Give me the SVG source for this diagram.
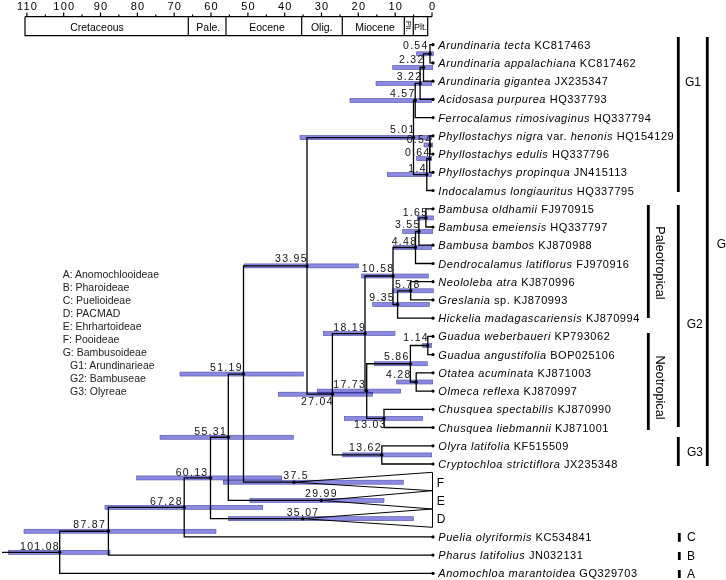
<svg xmlns="http://www.w3.org/2000/svg" width="726" height="580" viewBox="0 0 726 580">
<defs>
<style>
.br{fill:none;stroke:#000;stroke-width:1.3}
.bar{fill:#8a8ae2;stroke:#4e4ea6;stroke-width:0.6;mix-blend-mode:multiply}
.dot{fill:#000}
.nl{font-family:"Liberation Sans",Arial,sans-serif;font-size:10.5px;letter-spacing:1.3px;fill:#111}
.tip{font-family:"Liberation Sans",Arial,sans-serif;font-size:11px;letter-spacing:0.55px;fill:#000}
.sp{font-style:italic}
.ax{font-family:"Liberation Sans",Arial,sans-serif;font-size:11px;letter-spacing:1.2px;fill:#000;text-anchor:middle}
.per{font-family:"Liberation Sans",Arial,sans-serif;font-size:10.5px;fill:#000;text-anchor:middle}
.lg{font-family:"Liberation Sans",Arial,sans-serif;font-size:10.5px;fill:#222}
.cl{font-family:"Liberation Sans",Arial,sans-serif;font-size:12px;fill:#000}
.bk{stroke:#000;stroke-width:2.8;fill:none}
.tk{stroke:#000;stroke-width:1.2;fill:none}
.tri{fill:none;stroke:#000;stroke-width:1}
</style>
</defs>
<rect width="726" height="580" fill="#fff"/>

<g id="timescale">
<path class="tk" d="M25,16.7H432M25,16.7V35.7H427.7V16.7M188.3,16.7V35.7M226,16.7V35.7M301.7,16.7V35.7M342.3,16.7V35.7M404.3,16.7V35.7M413.3,16.7V35.7"/>
<path class="tk" d="M432,12.5V16.7M395.2,12.5V16.7M358.3,12.5V16.7M321.5,12.5V16.7M284.7,12.5V16.7M247.9,12.5V16.7M211,12.5V16.7M174.2,12.5V16.7M137.4,12.5V16.7M100.5,12.5V16.7M63.7,12.5V16.7M26.9,12.5V16.7M413.6,14.5V16.7M376.8,14.5V16.7M339.9,14.5V16.7M303.1,14.5V16.7M266.3,14.5V16.7M229.4,14.5V16.7M192.6,14.5V16.7M155.8,14.5V16.7M118.9,14.5V16.7M82.1,14.5V16.7M45.3,14.5V16.7"/>
<text class="ax" x="432.6" y="10">0</text>
<text class="ax" x="395.8" y="10">10</text>
<text class="ax" x="358.9" y="10">20</text>
<text class="ax" x="322.1" y="10">30</text>
<text class="ax" x="285.3" y="10">40</text>
<text class="ax" x="248.5" y="10">50</text>
<text class="ax" x="211.6" y="10">60</text>
<text class="ax" x="174.8" y="10">70</text>
<text class="ax" x="138" y="10">80</text>
<text class="ax" x="101.1" y="10">90</text>
<text class="ax" x="64.3" y="10">100</text>
<text class="ax" x="27.5" y="10">110</text>
<text class="per" x="97" y="30.5">Cretaceous</text>
<text class="per" x="208.3" y="30.5">Pale.</text>
<text class="per" x="267" y="30.5">Eocene</text>
<text class="per" x="321.7" y="30.5">Olig.</text>
<text class="per" x="375" y="30.5">Miocene</text>
<text class="per" x="420.5" y="30" style="font-size:9px">Plt.</text>
<text class="per" style="font-size:7.5px" transform="translate(406.4,26.3) rotate(90)">Pli.</text>
</g>

<g id="legend" class="lg">
<text x="62.7" y="278">A: Anomochlooideae</text>
<text x="62.7" y="291">B: Pharoideae</text>
<text x="62.7" y="304">C: Puelioideae</text>
<text x="62.7" y="317">D: PACMAD</text>
<text x="62.7" y="330">E: Ehrhartoideae</text>
<text x="62.7" y="343">F: Pooideae</text>
<text x="62.7" y="356">G: Bambusoideae</text>
<text x="70" y="369">G1: Arundinarieae</text>
<text x="70" y="382">G2: Bambuseae</text>
<text x="70" y="395">G3: Olyreae</text>
</g>

<g id="connectors" class="br">
<path d="M432.5,44.7H430V62.9H432.5"/>
<path d="M430,53.8H423.5V81.2H432.5"/>
<path d="M423.5,67.5H420.1V99.4H432.5"/>
<path d="M420.1,83.45H415.2V117.6H432.5"/>
<path d="M432.5,135.85H430V154.1H432.5"/>
<path d="M430,145H429.6V172.3H432.5"/>
<path d="M429.6,158.65H426.8V190.5H432.5"/>
<path d="M415.2,100.5H413.5V174.6H426.8"/>
<path d="M432.5,208.8H425.9V227H432.5"/>
<path d="M425.9,217.9H418.9V245.2H432.5"/>
<path d="M418.9,231.55H415.5V263.5H432.5"/>
<path d="M432.5,281.7H410.7V299.9H432.5"/>
<path d="M410.7,290.8H397.6V318.15H432.5"/>
<path d="M415.5,247.5H393V304.5H397.6"/>
<path d="M432.5,336.4H427.8V354.6H432.5"/>
<path d="M432.5,372.8H416.2V391.1H432.5"/>
<path d="M427.8,345.5H410.4V382H416.2"/>
<path d="M432.5,409.3H384V427.5H432.5"/>
<path d="M410.4,363.75H366.7V418.4H384"/>
<path d="M393,276H365V391.1H366.7"/>
<path d="M432.5,445.8H381.8V464H432.5"/>
<path d="M365,333.55H332.4V454.9H381.8"/>
<path d="M413.5,137.55H307V394.2H332.4"/>
<path d="M307,265.9H243.5V482.2H293.9"/>
<path d="M243.5,374.05H228.3V500.45H321.5"/>
<path d="M228.3,437.25H210.5V518.7H302.8"/>
<path d="M210.5,477.95H184.2V536.9H432.5"/>
<path d="M184.2,507.4H108.4V555.1H432.5"/>
<path d="M108.4,531.25H59.7V573.4H432.5"/>
<path d="M2,552.3H59.7"/>
</g>

<g id="n0_54a"><rect class="bar" x="416.7" y="51.8" width="16.6" height="4"/><circle class="dot" cx="430" cy="53.8" r="1.7"/><text class="nl" x="403" y="48.8">0.54</text></g>
<g id="n2_32"><rect class="bar" x="392.7" y="65.5" width="40" height="4"/><circle class="dot" cx="423.5" cy="67.5" r="1.7"/><text class="nl" x="399" y="63.1">2.32</text></g>
<g id="n3_22"><rect class="bar" x="376" y="81.45" width="55.7" height="4"/><circle class="dot" cx="420.1" cy="83.45" r="1.7"/><text class="nl" x="396.7" y="79.8">3.22</text></g>
<g id="n4_57"><rect class="bar" x="350" y="98.5" width="81.7" height="4"/><circle class="dot" cx="415.2" cy="100.5" r="1.7"/><text class="nl" x="390" y="97.1">4.57</text></g>
<g id="n5_01"><rect class="bar" x="300" y="135.55" width="131.7" height="4"/><circle class="dot" cx="413.5" cy="137.55" r="1.7"/><text class="nl" x="390" y="133.1">5.01</text></g>
<g id="n0_54b"><rect class="bar" x="424" y="143" width="8.7" height="4"/><circle class="dot" cx="430" cy="145" r="1.7"/><text class="nl" x="406.7" y="143.1">0.54</text></g>
<g id="n0_64"><rect class="bar" x="416.7" y="156.65" width="15" height="4"/><circle class="dot" cx="429.6" cy="158.65" r="1.7"/><text class="nl" x="405" y="155.5">0.64</text></g>
<g id="n1_4"><rect class="bar" x="387.3" y="172.6" width="44.4" height="4"/><circle class="dot" cx="426.8" cy="174.6" r="1.7"/><text class="nl" x="408.3" y="172.1">1.4</text></g>
<g id="n1_65"><rect class="bar" x="417.3" y="215.9" width="16" height="4"/><circle class="dot" cx="425.9" cy="217.9" r="1.7"/><text class="nl" x="402.7" y="215.5">1.65</text></g>
<g id="n3_55"><rect class="bar" x="402.7" y="229.55" width="30" height="4"/><circle class="dot" cx="418.9" cy="231.55" r="1.7"/><text class="nl" x="395" y="227.8">3.55</text></g>
<g id="n4_48"><rect class="bar" x="393.3" y="245.5" width="38.4" height="4"/><circle class="dot" cx="415.5" cy="247.5" r="1.7"/><text class="nl" x="391.7" y="244.5">4.48</text></g>
<g id="n5_78"><rect class="bar" x="392.7" y="288.8" width="40.6" height="4"/><circle class="dot" cx="410.7" cy="290.8" r="1.7"/><text class="nl" x="395" y="288.1">5.78</text></g>
<g id="n9_35"><rect class="bar" x="372.7" y="302.5" width="56.6" height="4"/><circle class="dot" cx="397.6" cy="304.5" r="1.7"/><text class="nl" x="369.3" y="301.1">9.35</text></g>
<g id="n10_58"><rect class="bar" x="361.7" y="274" width="66.6" height="4"/><circle class="dot" cx="393" cy="276" r="1.7"/><text class="nl" x="361.7" y="272.1">10.58</text></g>
<g id="n1_14"><rect class="bar" x="422.7" y="343.5" width="9" height="4"/><circle class="dot" cx="427.8" cy="345.5" r="1.7"/><text class="nl" x="403.3" y="341.1">1.14</text></g>
<g id="n5_86"><rect class="bar" x="374.3" y="361.75" width="53" height="4"/><circle class="dot" cx="410.4" cy="363.75" r="1.7"/><text class="nl" x="384" y="359.8">5.86</text></g>
<g id="n4_28"><rect class="bar" x="396.7" y="380" width="36" height="4"/><circle class="dot" cx="416.2" cy="382" r="1.7"/><text class="nl" x="386" y="378.1">4.28</text></g>
<g id="n13_03"><rect class="bar" x="344.3" y="416.4" width="78.4" height="4"/><circle class="dot" cx="384" cy="418.4" r="1.7"/><text class="nl" x="354" y="427.8">13.03</text></g>
<g id="n17_73"><rect class="bar" x="317.3" y="389.1" width="83.4" height="4"/><circle class="dot" cx="366.7" cy="391.1" r="1.7"/><text class="nl" x="333.3" y="387.8">17.73</text></g>
<g id="n18_19"><rect class="bar" x="323.3" y="331.55" width="71.7" height="4"/><circle class="dot" cx="365" cy="333.55" r="1.7"/><text class="nl" x="333.3" y="330.5">18.19</text></g>
<g id="n13_62"><rect class="bar" x="342.7" y="452.9" width="89" height="4"/><circle class="dot" cx="381.8" cy="454.9" r="1.7"/><text class="nl" x="349" y="451.1">13.62</text></g>
<g id="n27_04"><rect class="bar" x="278.3" y="392.2" width="94.4" height="4"/><circle class="dot" cx="332.4" cy="394.2" r="1.7"/><text class="nl" x="301" y="404.8">27.04</text></g>
<g id="n33_95"><rect class="bar" x="244" y="263.9" width="114.3" height="4"/><circle class="dot" cx="307" cy="265.9" r="1.7"/><text class="nl" x="275" y="262.1">33.95</text></g>
<g id="n37_5"><polygon class="tri" points="293.9,482.2 432.5,472.3 432.5,490.7"/><rect class="bar" x="223.3" y="480.2" width="180" height="4"/><circle class="dot" cx="293.9" cy="482.2" r="1.7"/><text class="nl" x="283.3" y="478.8">37.5</text><text class="cl" x="436.7" y="487">F</text></g>
<g id="n29_99"><polygon class="tri" points="321.5,500.45 432.5,490.7 432.5,509"/><rect class="bar" x="250" y="498.45" width="134" height="4"/><circle class="dot" cx="321.5" cy="500.45" r="1.7"/><text class="nl" x="305" y="497.1">29.99</text><text class="cl" x="436.7" y="505">E</text></g>
<g id="n35_07"><polygon class="tri" points="302.8,518.7 432.5,509 432.5,527.3"/><rect class="bar" x="228.3" y="516.7" width="185" height="4"/><circle class="dot" cx="302.8" cy="518.7" r="1.7"/><text class="nl" x="286.7" y="515.5">35.07</text><text class="cl" x="436.7" y="522.6">D</text></g>
<g id="n51_19"><rect class="bar" x="180" y="372.05" width="123.3" height="4"/><circle class="dot" cx="243.5" cy="374.05" r="1.7"/><text class="nl" x="210" y="370.5">51.19</text></g>
<g id="n55_31"><rect class="bar" x="160" y="435.25" width="133.3" height="4"/><circle class="dot" cx="228.3" cy="437.25" r="1.7"/><text class="nl" x="194.3" y="434.5">55.31</text></g>
<g id="n60_13"><rect class="bar" x="136.7" y="475.95" width="145" height="4"/><circle class="dot" cx="210.5" cy="477.95" r="1.7"/><text class="nl" x="175.7" y="476.1">60.13</text></g>
<g id="n67_28"><rect class="bar" x="105" y="505.4" width="157.7" height="4"/><circle class="dot" cx="184.2" cy="507.4" r="1.7"/><text class="nl" x="150" y="504.8">67.28</text></g>
<g id="n87_87"><rect class="bar" x="24" y="529.25" width="192" height="4"/><circle class="dot" cx="108.4" cy="531.25" r="1.7"/><text class="nl" x="73.3" y="527.8">87.87</text></g>
<g id="n101_08"><rect class="bar" x="8.3" y="550.3" width="101.7" height="4"/><circle class="dot" cx="59.7" cy="552.3" r="1.7"/><text class="nl" x="20" y="549.8">101.08</text></g>

<g id="t01"><circle class="dot" cx="433" cy="44.7" r="1.6"/><text class="tip" x="438.3" y="48.7"><tspan class="sp">Arundinaria tecta</tspan> KC817463</text></g>
<g id="t02"><circle class="dot" cx="433" cy="62.9" r="1.6"/><text class="tip" x="438.3" y="66.9"><tspan class="sp">Arundinaria appalachiana</tspan> KC817462</text></g>
<g id="t03"><circle class="dot" cx="433" cy="81.2" r="1.6"/><text class="tip" x="438.3" y="85.2"><tspan class="sp">Arundinaria gigantea</tspan> JX235347</text></g>
<g id="t04"><circle class="dot" cx="433" cy="99.4" r="1.6"/><text class="tip" x="438.3" y="103.4"><tspan class="sp">Acidosasa purpurea</tspan> HQ337793</text></g>
<g id="t05"><circle class="dot" cx="433" cy="117.6" r="1.6"/><text class="tip" x="438.3" y="121.6"><tspan class="sp">Ferrocalamus rimosivaginus</tspan> HQ337794</text></g>
<g id="t06"><circle class="dot" cx="433" cy="135.85" r="1.6"/><text class="tip" x="438.3" y="139.9"><tspan class="sp">Phyllostachys nigra</tspan> var. <tspan class="sp">henonis</tspan> HQ154129</text></g>
<g id="t07"><circle class="dot" cx="433" cy="154.1" r="1.6"/><text class="tip" x="438.3" y="158.1"><tspan class="sp">Phyllostachys edulis</tspan> HQ337796</text></g>
<g id="t08"><circle class="dot" cx="433" cy="172.3" r="1.6"/><text class="tip" x="438.3" y="176.3"><tspan class="sp">Phyllostachys propinqua</tspan> JN415113</text></g>
<g id="t09"><circle class="dot" cx="433" cy="190.5" r="1.6"/><text class="tip" x="438.3" y="194.5"><tspan class="sp">Indocalamus longiauritus</tspan> HQ337795</text></g>
<g id="t10"><circle class="dot" cx="433" cy="208.8" r="1.6"/><text class="tip" x="438.3" y="212.8"><tspan class="sp">Bambusa oldhamii</tspan> FJ970915</text></g>
<g id="t11"><circle class="dot" cx="433" cy="227" r="1.6"/><text class="tip" x="438.3" y="231"><tspan class="sp">Bambusa emeiensis</tspan> HQ337797</text></g>
<g id="t12"><circle class="dot" cx="433" cy="245.2" r="1.6"/><text class="tip" x="438.3" y="249.2"><tspan class="sp">Bambusa bambos</tspan> KJ870988</text></g>
<g id="t13"><circle class="dot" cx="433" cy="263.5" r="1.6"/><text class="tip" x="438.3" y="267.5"><tspan class="sp">Dendrocalamus latiflorus</tspan> FJ970916</text></g>
<g id="t14"><circle class="dot" cx="433" cy="281.7" r="1.6"/><text class="tip" x="438.3" y="285.7"><tspan class="sp">Neololeba atra</tspan> KJ870996</text></g>
<g id="t15"><circle class="dot" cx="433" cy="299.9" r="1.6"/><text class="tip" x="438.3" y="303.9"><tspan class="sp">Greslania</tspan> sp. KJ870993</text></g>
<g id="t16"><circle class="dot" cx="433" cy="318.15" r="1.6"/><text class="tip" x="438.3" y="322.2"><tspan class="sp">Hickelia madagascariensis</tspan> KJ870994</text></g>
<g id="t17"><circle class="dot" cx="433" cy="336.4" r="1.6"/><text class="tip" x="438.3" y="340.4"><tspan class="sp">Guadua weberbaueri</tspan> KP793062</text></g>
<g id="t18"><circle class="dot" cx="433" cy="354.6" r="1.6"/><text class="tip" x="438.3" y="358.6"><tspan class="sp">Guadua angustifolia</tspan> BOP025106</text></g>
<g id="t19"><circle class="dot" cx="433" cy="372.8" r="1.6"/><text class="tip" x="438.3" y="376.8"><tspan class="sp">Otatea acuminata</tspan> KJ871003</text></g>
<g id="t20"><circle class="dot" cx="433" cy="391.1" r="1.6"/><text class="tip" x="438.3" y="395.1"><tspan class="sp">Olmeca reflexa</tspan> KJ870997</text></g>
<g id="t21"><circle class="dot" cx="433" cy="409.3" r="1.6"/><text class="tip" x="438.3" y="413.3"><tspan class="sp">Chusquea spectabilis</tspan> KJ870990</text></g>
<g id="t22"><circle class="dot" cx="433" cy="427.5" r="1.6"/><text class="tip" x="438.3" y="431.5"><tspan class="sp">Chusquea liebmannii</tspan> KJ871001</text></g>
<g id="t23"><circle class="dot" cx="433" cy="445.8" r="1.6"/><text class="tip" x="438.3" y="449.8"><tspan class="sp">Olyra latifolia</tspan> KF515509</text></g>
<g id="t24"><circle class="dot" cx="433" cy="464" r="1.6"/><text class="tip" x="438.3" y="468"><tspan class="sp">Cryptochloa strictiflora</tspan> JX235348</text></g>
<g id="t25"><circle class="dot" cx="433" cy="536.9" r="1.6"/><text class="tip" x="438.3" y="540.9"><tspan class="sp">Puelia olyriformis</tspan> KC534841</text></g>
<g id="t26"><circle class="dot" cx="433" cy="555.1" r="1.6"/><text class="tip" x="438.3" y="559.1"><tspan class="sp">Pharus latifolius</tspan> JN032131</text></g>
<g id="t27"><circle class="dot" cx="433" cy="573.4" r="1.6"/><text class="tip" x="438.3" y="577.4"><tspan class="sp">Anomochloa marantoidea</tspan> GQ329703</text></g>

<g id="clades">
<path class="bk" d="M678.3,37V192M707.3,37V466M678.3,205V427M678.3,437V466M648.3,205V318M648.3,333V430M679.3,533V541.7M679.3,552V560M679.3,570V578"/>
<text class="cl" x="685" y="86">G1</text>
<text class="cl" x="716.7" y="247.6">G</text>
<text class="cl" x="686.7" y="327.6">G2</text>
<text class="cl" x="687" y="456">G3</text>
<text class="cl" x="687" y="541.3">C</text>
<text class="cl" x="687" y="559.8">B</text>
<text class="cl" x="687" y="578.3">A</text>
<text class="cl" style="font-size:12.7px" text-anchor="middle" transform="translate(656,263) rotate(90)">Paleotropical</text>
<text class="cl" style="font-size:12.7px" text-anchor="middle" transform="translate(656,387.5) rotate(90)">Neotropical</text>
</g>
</svg>
